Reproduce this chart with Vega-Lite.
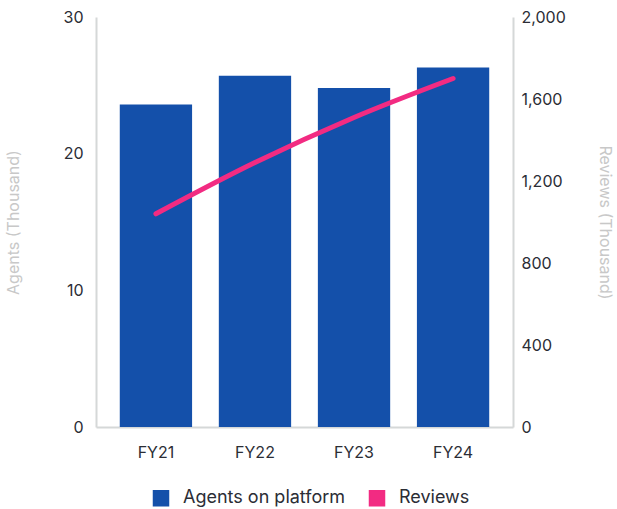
{
  "$schema": "https://vega.github.io/schema/vega-lite/v6.json",
  "width": 417,
  "height": 410,
  "padding": {"left": 5, "right": 2, "top": 9, "bottom": 2},
  "background": "white",
  "config": {
    "view": {"stroke": null},
    "font": "Inter",
    "axis": {"grid": false, "ticks": false, "domainColor": "#D5D8D8", "domainWidth": 2, "labelColor": "#2B2D35", "labelFontSize": 16, "titleColor": "#C8C8C8", "titleFontSize": 16, "titleFontWeight": "normal"}
  },
  "data": {"values": [
    {"year": "FY21", "agents": 23.6, "reviews": 1040},
    {"year": "FY22", "agents": 25.7, "reviews": 1290},
    {"year": "FY23", "agents": 24.8, "reviews": 1510},
    {"year": "FY24", "agents": 26.3, "reviews": 1700}
  ]},
  "encoding": {
    "x": {"field": "year", "type": "nominal", "title": null, "scale": {"paddingInner": 0.27, "paddingOuter": 0.24}, "axis": {"labelAngle": 0, "labelPadding": 17}}
  },
  "layer": [
    {
      "mark": {"type": "bar", "color": "#1450AA"},
      "encoding": {
        "y": {"field": "agents", "type": "quantitative", "title": "Agents (Thousand)", "scale": {"domain": [0, 30]}, "axis": {"values": [0, 10, 20, 30], "labelPadding": 13, "titlePadding": 42}},
        "color": {"datum": "Agents on platform", "type": "nominal", "scale": {"domain": ["Agents on platform", "Reviews"], "range": ["#1450AA", "#F22B82"]}, "legend": {"orient": "none", "legendX": 56, "legendY": 472, "direction": "horizontal", "title": null, "symbolType": "square", "symbolSize": 225, "labelFontSize": 18, "labelLimit": 0, "labelColor": "#2B2D35", "columnPadding": 20, "labelOffset": 13, "encode": {"symbols": {"update": {"fill": {"scale": "color", "field": "value"}, "stroke": {"value": "transparent"}, "opacity": {"value": 1}}}}}}
      }
    },
    {
      "mark": {"type": "line", "color": "#F22B82", "strokeWidth": 5, "strokeCap": "round", "interpolate": "monotone"},
      "encoding": {
        "y": {"field": "reviews", "type": "quantitative", "title": "Reviews (Thousand)", "scale": {"domain": [0, 2000]}, "axis": {"orient": "right", "values": [0, 400, 800, 1200, 1600, 2000], "labelPadding": 8, "titlePadding": 31}},
        "color": {"datum": "Reviews", "type": "nominal"}
      }
    }
  ],
  "resolve": {"scale": {"y": "independent"}}
}
